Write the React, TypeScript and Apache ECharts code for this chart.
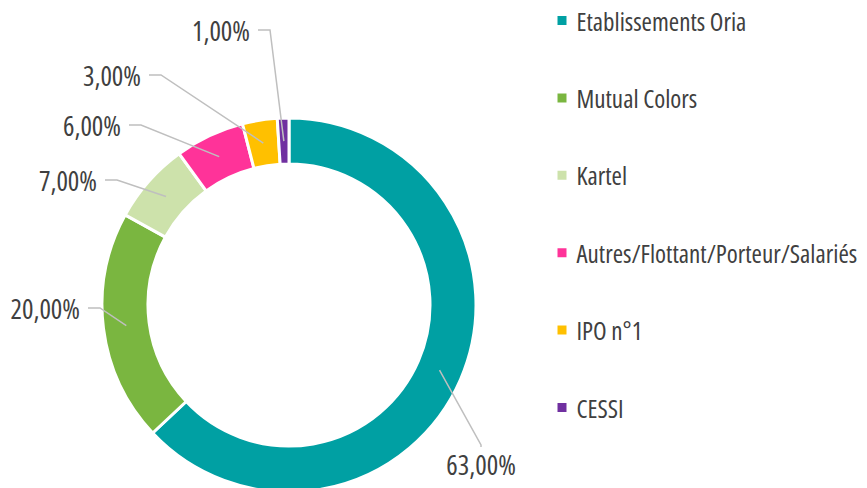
import React, { useEffect, useRef } from 'react';
import * as echarts from 'echarts';

const categories = [
  'Etablissements Oria',
  'Mutual Colors',
  'Kartel',
  'Autres/Flottant/Porteur/Salariés',
  'IPO n°1',
  'CESSI',
];
const shares = [63, 20, 7, 6, 3, 1];
const colors = ['#00A0A3', '#7AB640', '#CDE2AB', '#FF3399', '#FFC000', '#7030A0'];

// condensed sans (closest installed look to the original condensed face)
const FONT = "'Open Sans';font-stretch:condensed";
const TEXT = '#404040';
const CENTER = [289, 305];

// label placement (layout, not data)
const LABEL_PLACE = [
  { x: 481, y: 464, align: 'center' },
  { x: 88, y: 308, align: 'right' },
  { x: 105, y: 180, align: 'right' },
  { x: 129, y: 125, align: 'right' },
  { x: 149, y: 75, align: 'right' },
  { x: 258, y: 30, align: 'right' },
];

const fmt = (v: number) => v.toFixed(2).replace('.', ',') + '%';

export default function App() {
  const ref = useRef<HTMLDivElement>(null);
  useEffect(() => {
    document.body.style.margin = '0';
    if (!ref.current) return;
    const chart = echarts.init(ref.current, null, { renderer: 'svg' });
    const ringData = categories.map((name, i) => ({
      name,
      value: shares[i],
      itemStyle: { color: colors[i] },
    }));
    const labelData = categories.map((name, i) => ({
      name,
      value: shares[i],
      label: i === 0 ? { padding: [8, 0, 0, 0] } : { padding: [0, 8, 0, 100] },
      labelLine: i === 0 ? { length2: 2 } : { length2: 12 },
    }));
    chart.setOption({
      animation: false,
      backgroundColor: '#ffffff',
      legend: {
        orient: 'vertical',
        left: 555.5,
        top: 4.5,
        padding: 0,
        icon: 'rect',
        itemWidth: 11,
        itemHeight: 11,
        itemGap: 45.4,
        selectedMode: false,
        data: categories,
        textStyle: {
          color: TEXT,
          fontSize: 25,
          lineHeight: 26,
          fontFamily: FONT,
          padding: [0, 0, 6, 4],
        },
      },
      series: [
        {
          type: 'pie',
          name: 'ring',
          z: 2,
          center: CENTER,
          radius: [141, 187],
          startAngle: 90,
          clockwise: true,
          silent: true,
          label: { show: false },
          labelLine: { show: false },
          emphasis: { disabled: true },
          itemStyle: { borderColor: '#ffffff', borderWidth: 3 },
          data: ringData,
        },
        {
          type: 'pie',
          name: 'labels',
          z: 5,
          center: CENTER,
          radius: [160, 164],
          startAngle: 90,
          clockwise: true,
          silent: true,
          emphasis: { disabled: true },
          itemStyle: { color: 'rgba(0,0,0,0)' },
          label: {
            show: true,
            position: 'outside',
            color: TEXT,
            fontSize: 27,
            lineHeight: 26,
            fontFamily: FONT,
            overflow: 'none',
            edgeDistance: 0,
            bleedMargin: 0,
            formatter: (p: any) => fmt(p.value),
          },
          labelLine: {
            show: true,
            length: 10,
            length2: 12,
            minTurnAngle: 0,
            lineStyle: { color: '#BFBFBF', width: 1.5 },
          },
          labelLayout: (params: any) => {
            const p = LABEL_PLACE[params.dataIndex];
            return { x: p.x, y: p.y, align: p.align, verticalAlign: 'middle' };
          },
          data: labelData,
        },
      ],
    });
    return () => chart.dispose();
  }, []);
  return <div ref={ref} style={{ width: 867, height: 488 }} />;
}
